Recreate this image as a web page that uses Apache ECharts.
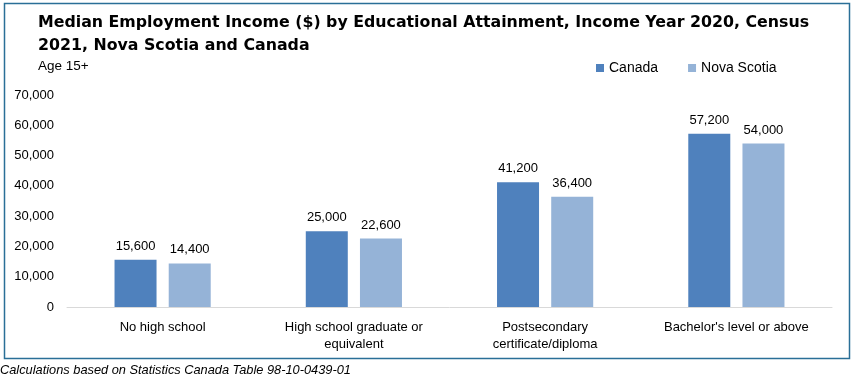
<!DOCTYPE html>
<html><head><meta charset="utf-8">
<script src="https://cdn.jsdelivr.net/npm/echarts@6/dist/echarts.min.js"></script>
<style>html,body{margin:0;padding:0;background:#fff}#c{width:853px;height:378px}</style>
</head><body><div id="c"></div>
<script>
const categories = ["No high school", "High school graduate or\nequivalent", "Postsecondary\ncertificate/diploma", "Bachelor's level or above"];
const canada = [15600, 25000, 41200, 57200];
const novaScotia = [14400, 22600, 36400, 54000];
const seriesNames = ["Canada", "Nova Scotia"];
const titleText = "Median Employment Income ($) by Educational Attainment, Income Year 2020, Census\n2021, Nova Scotia and Canada";
const subtitleText = "Age 15+";
const footnote = "Calculations based on Statistics Canada Table 98-10-0439-01";
const FONT = "Liberation Sans";
const chart = echarts.init(document.getElementById('c'), null, {renderer: 'canvas'});
const fmt = v => v.toLocaleString('en-US');
chart.setOption({
  animation: false,
  textStyle: {fontFamily: FONT},
  graphic: [{type: 'rect', shape: {x: 4.5, y: 3.5, width: 845, height: 355}, style: {fill: 'none', stroke: '#2a6f97', lineWidth: 1.5}, silent: true}],
  title: [
    {text: titleText, left: 33, top: 6, textStyle: {fontFamily: 'DejaVu Sans', fontSize: 15.8, fontWeight: 'bold', color: '#000', lineHeight: 23}},
    {text: subtitleText, left: 33, top: 54, textStyle: {fontFamily: FONT, fontSize: 13.5, fontWeight: 'normal', color: '#000'}},
    {text: footnote, left: -5, top: 359, textStyle: {fontFamily: FONT, fontSize: 12.8, fontStyle: 'italic', fontWeight: 'normal', color: '#000'}}
  ],
  legend: {
    data: seriesNames, left: 591, top: 56, itemWidth: 8, itemHeight: 8, itemGap: 30, icon: 'rect',
    textStyle: {fontFamily: FONT, fontSize: 14, color: '#000', padding: [0, 0, 0, 0]}
  },
  grid: {left: 67, right: 21, top: 95, bottom: 71, containLabel: false},
  xAxis: {
    type: 'category', data: categories,
    axisLine: {lineStyle: {color: '#d9d9d9'}}, axisTick: {show: false},
    axisLabel: {fontFamily: FONT, fontSize: 13, color: '#000', margin: 12, lineHeight: 17, interval: 0}
  },
  yAxis: {
    type: 'value', min: 0, max: 70000, interval: 10000,
    splitLine: {show: false}, axisLine: {show: false}, axisTick: {show: false},
    axisLabel: {fontFamily: FONT, fontSize: 13, color: '#000', margin: 13, formatter: fmt}
  },
  series: [
    {name: seriesNames[0], type: 'bar', data: canada, barWidth: 42, barGap: '29%', itemStyle: {color: '#4f81bd'},
     label: {show: true, position: 'top', distance: 7, fontFamily: FONT, fontSize: 13, color: '#000', formatter: p => fmt(p.value)}},
    {name: seriesNames[1], type: 'bar', data: novaScotia, barWidth: 42, itemStyle: {color: '#95b3d7'},
     label: {show: true, position: 'top', distance: 7, fontFamily: FONT, fontSize: 13, color: '#000', formatter: p => fmt(p.value)}}
  ]
});
</script></body></html>
